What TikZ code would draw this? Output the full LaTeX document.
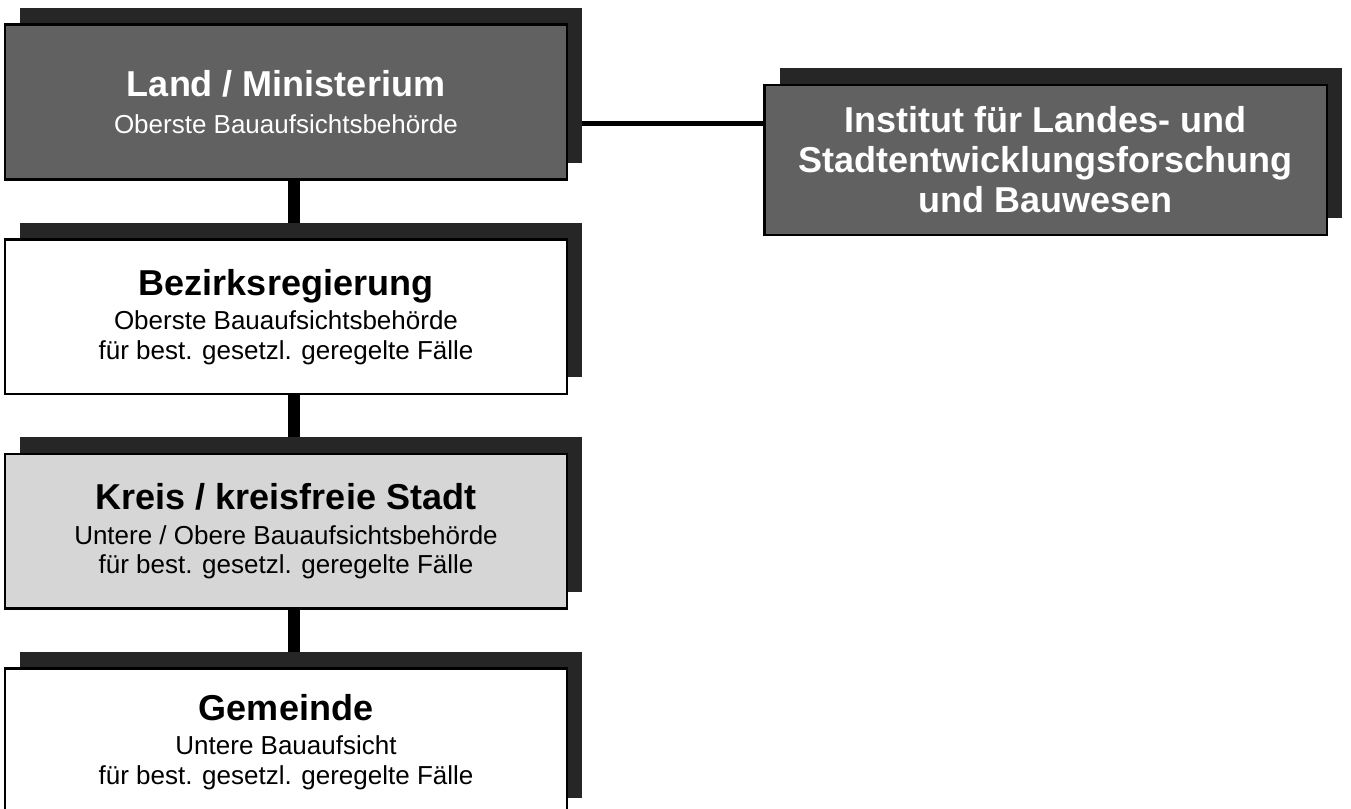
\documentclass[tikz,border=0pt]{standalone}
\usepackage{fontspec}
\setmainfont{Liberation Sans}
\usetikzlibrary{positioning, shadows, backgrounds}

\begin{document}
\begin{tikzpicture}[
      x=0.75pt, y=0.75pt,
      node distance=43pt,
      box/.style={rectangle, draw, line width=2pt, minimum width=421.5pt, minimum height=116pt, inner sep=0pt, align=center,
        font=\fontsize{19.5}{22}\selectfont,
        drop shadow={shadow xshift=11.5pt, shadow yshift=12.5pt, fill=black!85, opacity=1}},
      darkbox/.style={box, fill=black!62, text=white},
      plainbox/.style={box, fill=white},
      greybox/.style={box, fill=black!16},
      head/.style={font=\fontsize{27}{30}\selectfont\bfseries},
      link/.style={line width=9pt},
      sidelink/.style={line width=3.75pt}
    ]
    \useasboundingbox (0,0) rectangle (1351,-809);

    \node[darkbox] (land) at (286,-102) {{\bfseries\fontsize{27}{30}\selectfont Land / Ministerium}\\[6pt]Oberste Bauaufsichtsbehörde};
    \node[plainbox, below=of land] (bezirk) {{\bfseries\fontsize{27}{30}\selectfont Bezirksregierung}\\[4pt]Oberste Bauaufsichtsbehörde\\für best. gesetzl. geregelte Fälle};
    \node[greybox, below=of bezirk] (kreis) {{\bfseries\fontsize{27}{30}\selectfont Kreis / kreisfreie Stadt}\\[4pt]Untere / Obere Bauaufsichtsbehörde\\für best. gesetzl. geregelte Fälle};
    \node[plainbox, below=of kreis, minimum height=109.5pt] (gemeinde) {{\bfseries\fontsize{27}{30}\selectfont Gemeinde}\\[4pt]Untere Bauaufsicht\\für best. gesetzl. geregelte Fälle};
    \node[darkbox, head, minimum width=422pt, minimum height=112.5pt] (institut) at (1045.5,-160) {Institut für Landes- und\\Stadtentwicklungsforschung\\und Bauwesen};

    \begin{scope}[on background layer]
      \draw[link] ([xshift=6pt]land.south) -- ([xshift=6pt]bezirk.north);
      \draw[link] ([xshift=6pt]bezirk.south) -- ([xshift=6pt]kreis.north);
      \draw[link] ([xshift=6pt]kreis.south) -- ([xshift=6pt]gemeinde.north);
      \coordinate (tap) at ([yshift=-16pt]land.east);
      \draw[sidelink] (tap) -- (tap -| institut.west);
    \end{scope}
  \end{tikzpicture}
\end{document}
